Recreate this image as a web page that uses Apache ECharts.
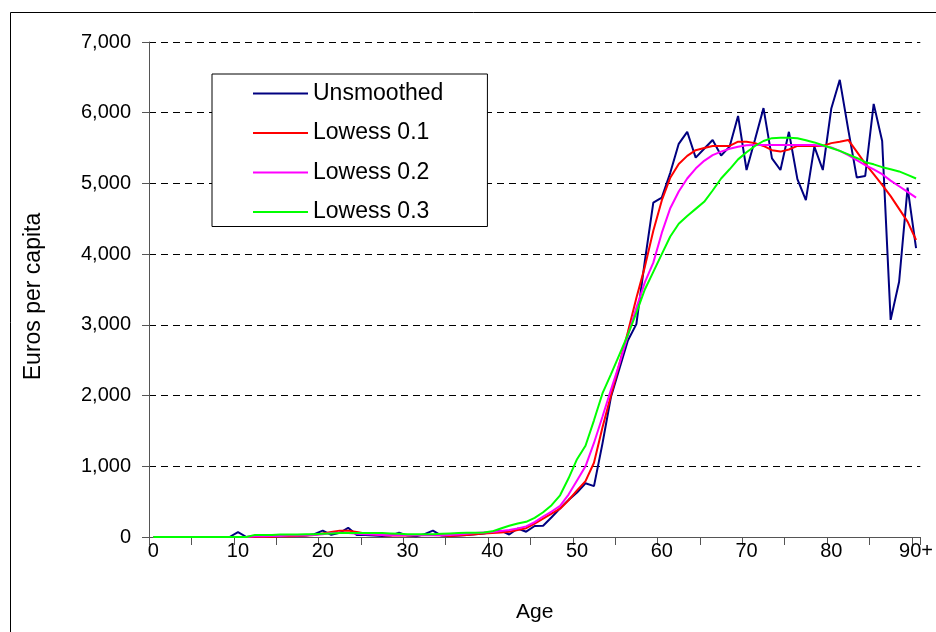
<!DOCTYPE html>
<html>
<head>
<meta charset="utf-8">
<script src="https://cdn.jsdelivr.net/npm/echarts@6/dist/echarts.min.js"></script>
<style>
  html, body { margin: 0; padding: 0; background: #fff; }
  #chart { width: 936px; height: 632px; }
</style>
</head>
<body>
<div id="chart"></div>
<script>
// Ages 0..89 plus the open-ended "90+" group
const ages = [];
for (let a = 0; a < 90; a++) ages.push(String(a));
ages.push('90+');

const seriesNames = ['Unsmoothed', 'Lowess 0.1', 'Lowess 0.2', 'Lowess 0.3'];
const seriesColors = ['#000080', '#FF0000', '#FF00FF', '#00FF00'];

// Euros per capita by age
const unsmoothed = [
  0, 0, 0, 0, 0, 0, 0, 0, 0, 0,
  70, 0, 10, 15, 10, 15, 20, 15, 20, 40,
  90, 30, 60, 130, 30, 30, 20, 15, 20, 60,
  20, 10, 40, 90, 20, 15, 20, 30, 40, 50,
  70, 90, 35, 120, 75, 155, 160, 280, 405, 525,
  630, 760, 720, 1320, 1980, 2380, 2780, 3010, 3900, 4730,
  4800, 5150, 5560, 5730, 5365, 5490, 5615, 5395, 5520, 5955,
  5190, 5620, 6065, 5355, 5190, 5730, 5060, 4765, 5520, 5190,
  6060, 6465, 5760, 5085, 5105, 6125, 5600, 3070, 3610, 4940,
  4085
];

const lowess01 = [
  0, 0, 0, 0, 0, 0, 0, 0, 0, 0,
  0, 0, 5, 5, 5, 10, 10, 15, 20, 30,
  50, 70, 90, 90, 70, 50, 35, 25, 20, 20,
  20, 25, 30, 30, 25, 15, 20, 30, 40, 50,
  55, 65, 75, 100, 125, 190, 260, 330, 400, 520,
  660, 790, 1050, 1550, 2000, 2450, 2900, 3380, 3820, 4330,
  4760, 5080, 5275, 5390, 5470, 5500, 5530, 5530, 5530, 5590,
  5590, 5570, 5530, 5470, 5450, 5480, 5530, 5530, 5530, 5530,
  5570, 5590, 5615, 5450, 5280, 5130, 4980, 4820, 4640, 4460,
  4200
];

const lowess02 = [
  0, 0, 0, 0, 0, 0, 0, 0, 0, 0,
  0, 0, 10, 10, 15, 15, 20, 20, 25, 30,
  40, 55, 60, 55, 45, 40, 35, 30, 25, 25,
  25, 25, 25, 25, 25, 30, 35, 45, 55, 65,
  70, 85, 100, 120, 150, 210, 290, 360, 440, 600,
  800, 1000, 1330, 1700, 2080, 2450, 2850, 3240, 3600, 3880,
  4300, 4650, 4885, 5070, 5210, 5320, 5400, 5450, 5490, 5520,
  5540, 5545, 5545, 5545, 5545, 5545, 5545, 5545, 5545, 5530,
  5510, 5460, 5400, 5330, 5260, 5200, 5130, 5040, 4960, 4880,
  4800
];

const lowess03 = [
  0, 0, 0, 0, 0, 0, 0, 0, 0, 0,
  0, 0, 30, 30, 30, 35, 35, 35, 40, 40,
  45, 50, 55, 55, 55, 55, 55, 55, 50, 45,
  40, 40, 40, 40, 45, 50, 55, 60, 60, 65,
  80, 120, 160, 190, 215, 270, 350, 450, 590, 830,
  1100, 1290, 1650, 2030, 2300, 2580, 2860, 3170, 3500, 3750,
  4000, 4250, 4430, 4540, 4640, 4740, 4900, 5070, 5200, 5340,
  5440, 5530, 5600, 5640, 5645, 5645, 5640, 5610, 5580, 5540,
  5500, 5460, 5410, 5360, 5300, 5270, 5230, 5200, 5170, 5120,
  5070
];

const seriesData = [unsmoothed, lowess01, lowess02, lowess03];

const FONT = '"Liberation Sans", Arial, sans-serif';

const chart = echarts.init(document.getElementById('chart'), null, { renderer: 'canvas' });

chart.setOption({
  animation: false,
  backgroundColor: '#ffffff',
  textStyle: { fontFamily: FONT },
  graphic: [{
    type: 'rect',
    shape: { x: 10.5, y: 12.5, width: 940, height: 640 },
    style: { fill: 'none', stroke: '#000', lineWidth: 1 },
    silent: true,
    z: -10
  }],
  grid: { left: 149, right: 11, top: 42, bottom: 95, containLabel: false },
  legend: {
    orient: 'vertical',
    left: 212,
    top: 74,
    padding: [8, 44, 3, 40],
    itemWidth: 55,
    itemHeight: 14,
    itemGap: 16.5,
    backgroundColor: '#fff',
    borderColor: '#000',
    borderWidth: 1,
    borderRadius: 0,
    itemStyle: { opacity: 0 },
    textStyle: { fontFamily: FONT, fontSize: 23, color: '#000' },
    data: seriesNames
  },
  xAxis: {
    type: 'category',
    data: ages,
    boundaryGap: true,
    name: 'Age',
    nameLocation: 'middle',
    nameGap: 65,
    nameTextStyle: { fontFamily: FONT, fontSize: 21, color: '#000' },
    axisLine: { lineStyle: { color: '#555', width: 1 } },
    axisTick: { show: true, interval: 4, length: 8, lineStyle: { color: '#555' } },
    axisLabel: { interval: 9, margin: 4, fontFamily: FONT, fontSize: 20, color: '#000' },
    splitLine: { show: false }
  },
  yAxis: {
    type: 'value',
    min: 0,
    max: 7000,
    interval: 1000,
    name: 'Euros per capita',
    nameLocation: 'middle',
    nameGap: 104,
    nameRotate: 90,
    nameTextStyle: { fontFamily: FONT, fontSize: 23, color: '#000', padding: [0, 14, 0, 0] },
    axisLine: { show: true, lineStyle: { color: '#555', width: 1 } },
    axisTick: { show: true, length: 7, lineStyle: { color: '#555' } },
    axisLabel: {
      margin: 18,
      fontFamily: FONT,
      fontSize: 20,
      color: '#000',
      formatter: v => v.toLocaleString('en-US')
    },
    splitLine: { show: true, lineStyle: { color: '#000', type: [7, 5], width: 1 } }
  },
  series: seriesNames.map((name, i) => ({
    name: name,
    type: 'line',
    data: seriesData[i],
    symbol: 'none',
    smooth: false,
    color: seriesColors[i],
    lineStyle: { color: seriesColors[i], width: 2 },
    z: 2 + i
  }))
});
</script>
</body>
</html>
